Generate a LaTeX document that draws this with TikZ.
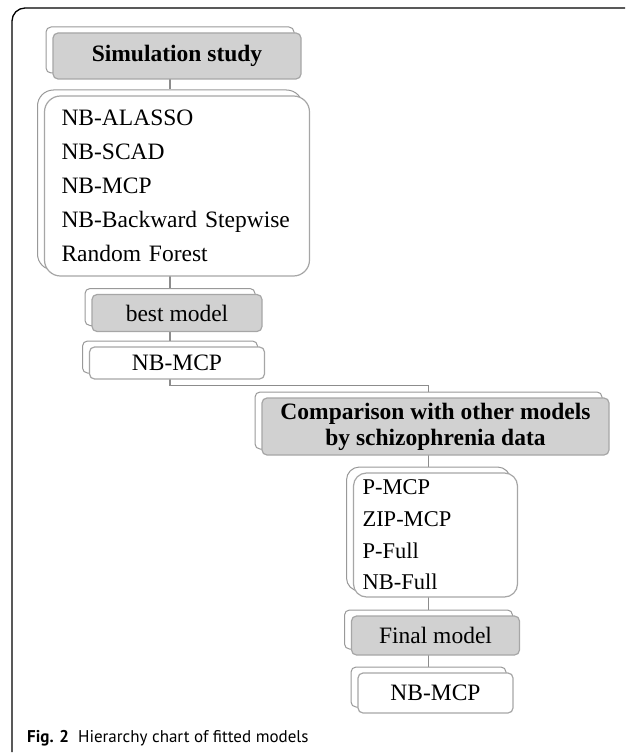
\documentclass[tikz,border=0pt]{standalone}
\usepackage{fontspec}
\setmainfont{Liberation Serif}
\newfontfamily\capfont{PT Sans}
\usetikzlibrary{calc,backgrounds}

\begin{document}
\begin{tikzpicture}[x=1pt,y=-1pt,font=\fontsize{23.5}{34}\selectfont]
  \tikzset{
    backbox/.style={draw=black!40,fill=white,rounded corners=5pt,line width=1pt},
    headbox/.style={draw=black!35,fill=black!18,rounded corners=5pt,line width=1.2pt},
    itembox/.style={draw=black!35,fill=white,rounded corners=5pt,line width=1.2pt},
    listbox/.style={itembox,rounded corners=16pt,align=left},
    boldhead/.style={font=\fontsize{23.5}{26}\selectfont\bfseries,align=center},
    link/.style={draw=black!45,line width=1.5pt}
  }
  \useasboundingbox (0,0) rectangle (625,754);

  % frame
  \draw[line width=1.3pt,rounded corners=13pt] (12,752) |- (625,8);

  % simulation part
  \node[backbox,minimum width=248pt,minimum height=46pt] (simback) at (170,50) {};
  \node[headbox,boldhead,minimum width=248pt,minimum height=46pt] (sim) at (177,56) {Simulation study};

  \node[backbox,rounded corners=16pt,minimum width=265pt,minimum height=180pt] (listback) at (170,180) {};
  \node[listbox,text width=231pt,inner xsep=17pt,minimum height=180pt] (list) at (177,186)
    {NB-ALASSO\\NB-SCAD\\NB-MCP\\NB-Backward Stepwise\\Random Forest};

  \node[backbox,minimum width=170pt,minimum height=37pt] (bestback) at (170,307) {};
  \node[headbox,minimum width=170pt,minimum height=37pt] (best) at (177,313) {best model};

  \node[backbox,minimum width=175pt,minimum height=32pt] (nbback) at (170,357) {};
  \node[itembox,minimum width=175pt,minimum height=32pt] (nb) at (177,363) {NB-MCP};

  % comparison part
  \node[backbox,minimum width=347pt,minimum height=57pt] (cmpback) at (428.5,420.5) {};
  \node[headbox,boldhead,minimum width=347pt,minimum height=57pt] (cmp) at (435.5,426.5)
    {Comparison with other models\\by schizophrenia data};

  \node[backbox,rounded corners=13pt,minimum width=164pt,minimum height=124pt] (otherback) at (428.5,529) {};
  \node[listbox,rounded corners=13pt,font=\fontsize{22.5}{31.7}\selectfont,text width=146pt,inner xsep=9pt,minimum height=124pt] (other) at (435.5,535)
    {P-MCP\\ZIP-MCP\\P-Full\\NB-Full};

  \node[backbox,minimum width=168pt,minimum height=39pt] (finalback) at (428.5,629.5) {};
  \node[headbox,minimum width=168pt,minimum height=39pt] (final) at (435.5,635.5) {Final model};

  \node[backbox,minimum width=155pt,minimum height=40pt] (chosenback) at (428.5,687) {};
  \node[itembox,minimum width=155pt,minimum height=40pt] (chosen) at (435.5,693) {NB-MCP};

  % connectors
  \begin{scope}[on background layer]
    \draw[link] (simback) -- (listback);
    \draw[link] (listback) -- (bestback);
    \draw[link] (bestback) -- (nbback);
    \draw[link] (nbback.center) |- ($(nb.south)!0.5!(cmpback.north)$) -| (cmpback.north);
    \draw[link] (cmpback) -- (otherback);
    \draw[link] (otherback) -- (finalback);
    \draw[link] (finalback) -- (chosenback);
  \end{scope}

  % caption
  \node[anchor=base west,inner sep=0pt,font=\capfont\fontsize{17}{20}\selectfont] (caption) at (27,742)
    {\textbf{Fig. 2}\hspace{9pt}Hierarchy chart of fitted models};
\end{tikzpicture}
\end{document}
